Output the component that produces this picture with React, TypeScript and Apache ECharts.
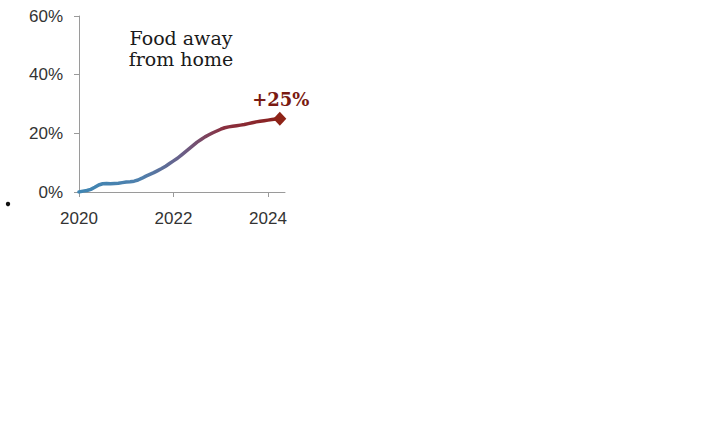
import React, { useEffect, useRef } from "react";
import * as echarts from "echarts";

const months = [
  "2020-01","2020-02","2020-03","2020-04","2020-05","2020-06","2020-07","2020-08","2020-09","2020-10","2020-11","2020-12",
  "2021-01","2021-02","2021-03","2021-04","2021-05","2021-06","2021-07","2021-08","2021-09","2021-10","2021-11","2021-12",
  "2022-01","2022-02","2022-03","2022-04","2022-05","2022-06","2022-07","2022-08","2022-09","2022-10","2022-11","2022-12",
  "2023-01","2023-02","2023-03","2023-04","2023-05","2023-06","2023-07","2023-08","2023-09","2023-10","2023-11","2023-12",
  "2024-01","2024-02","2024-03",
];
const values = [
  0, 0.3, 0.5, 0.9, 1.6, 2.4, 2.8, 2.9, 2.8, 2.9, 3.0, 3.2,
  3.4, 3.5, 3.7, 4.1, 4.7, 5.4, 6.0, 6.6, 7.3, 8.0, 8.8, 9.7,
  10.6, 11.5, 12.6, 13.7, 14.8, 15.9, 17.0, 17.9, 18.8, 19.5, 20.2, 20.8,
  21.4, 21.9, 22.2, 22.4, 22.6, 22.8, 23.0, 23.3, 23.6, 23.9, 24.1, 24.3,
  24.5, 24.7, 24.9,
];
const endMonth = "2024-04";
const endValue = 25;
const endLabel = "+25%";
const title = "Food away\nfrom home";
const xTicks = [2020, 2022, 2024];
const yTicks = [0, 20, 40, 60];

const toYear = (m: string) => {
  const [y, mo] = m.split("-").map(Number);
  return y + (mo - 1) / 12;
};

export default function App() {
  const ref = useRef<HTMLDivElement>(null);
  useEffect(() => {
    const chart = echarts.init(ref.current!, undefined, { renderer: "svg" });
    const lineData = months.map((m, i) => [toYear(m), values[i]]);
    const gradient = new echarts.graphic.LinearGradient(79, 0, 285, 0, [
      { offset: 0, color: "#3f86b3" },
      { offset: 0.3, color: "#4f80ad" },
      { offset: 0.5, color: "#6a5f88" },
      { offset: 0.7, color: "#8a3040" },
      { offset: 1, color: "#8a1f1a" },
    ], true);
    chart.setOption({
      animation: false,
      grid: { left: 79, top: 16, width: 206, height: 176, containLabel: false },
      xAxis: {
        type: "value",
        min: 2020,
        max: 2024.36,
        axisLine: { show: true, lineStyle: { color: "#9a9a9a", width: 1 } },
        axisTick: { show: true, length: 5, customValues: xTicks, lineStyle: { color: "#9a9a9a" } },
        axisLabel: {
          customValues: xTicks,
          color: "#333",
          fontFamily: "Liberation Sans",
          fontSize: 17,
          margin: 18,
          formatter: (v: number) => String(v),
        },
        splitLine: { show: false },
      },
      yAxis: {
        type: "value",
        min: 0,
        max: 60,
        interval: 20,
        axisLine: { show: true, lineStyle: { color: "#9a9a9a", width: 1 } },
        axisTick: { show: true, length: 5, customValues: yTicks, lineStyle: { color: "#9a9a9a" } },
        axisLabel: {
          customValues: yTicks,
          color: "#333",
          fontFamily: "Liberation Sans",
          fontSize: 17,
          margin: 16,
          formatter: (v: number) => v + "%",
        },
        splitLine: { show: false },
      },
      series: [
        {
          type: "line",
          data: lineData,
          showSymbol: false,
          smooth: false,
          lineStyle: { color: gradient, width: 3.5, cap: "round", join: "round" },
          z: 2,
        },
        {
          type: "scatter",
          data: [[toYear(endMonth), endValue]],
          symbol: "diamond",
          symbolSize: [13, 14],
          itemStyle: { color: "#8e2317", opacity: 1 },
          label: {
            show: true,
            position: "top",
            distance: 3,
            offset: [1, 0],
            formatter: endLabel,
            color: "#7a1a12",
            fontFamily: "DejaVu Serif",
            fontWeight: "bold",
            fontSize: 18,
          },
          z: 3,
        },
      ],
      graphic: [
        {
          type: "text",
          x: 181,
          y: 27,
          style: {
            text: title,
            fill: "#1a1a1a",
            font: "19px 'DejaVu Serif'",
            textAlign: "center",
            lineHeight: 21,
          },
        },
        {
          type: "circle",
          shape: { cx: 8, cy: 204, r: 2.2 },
          style: { fill: "#111" },
        },
      ],
    });
    return () => chart.dispose();
  }, []);
  return (
    <div
      ref={ref}
      style={{ position: "fixed", left: 0, top: 0, width: 703, height: 444, background: "#fff" }}
    />
  );
}
